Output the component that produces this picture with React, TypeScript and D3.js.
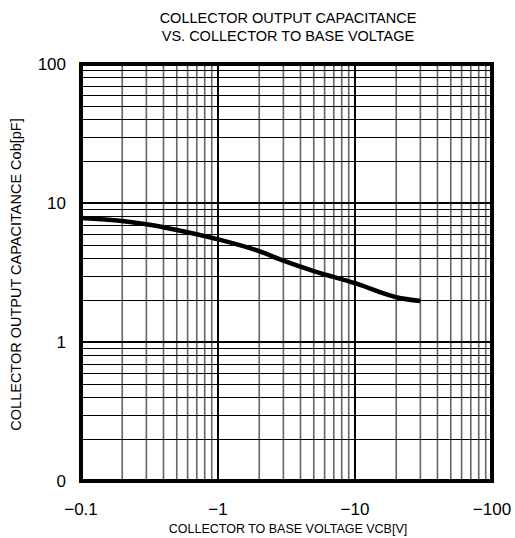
import React from 'react';
import { scaleLog, line, curveMonotoneX } from 'd3';

// collector to base voltage magnitude [V] (axis shows negative values)
const vcb = [0.1, 0.2, 0.3, 0.5, 1, 2, 3, 5, 10, 20, 30];
// collector output capacitance [pF]
const cob = [7.8, 7.43, 7.03, 6.4, 5.48, 4.5, 3.85, 3.24, 2.65, 2.1, 1.97];

const xTicks = [0.1, 1, 10, 100];
const xTickLabels = ['\u22120.1', '\u22121', '\u221210', '\u2212100'];
const yTicks = [0.1, 1, 10, 100];
const yTickLabels = ['0', '1', '10', '100'];

const W = 515;
const H = 538;
const left = 81;
const right = 492;
const top = 64;
const bottom = 481;

const minors = (decades: number[]) => {
  const out: number[] = [];
  decades.forEach((d) => {
    for (let k = 2; k <= 9; k++) out.push(d * k);
  });
  return out;
};

export default function App() {
  const x = scaleLog().domain([0.1, 100]).range([left, right]);
  const y = scaleLog().domain([0.1, 100]).range([bottom, top]);

  const minorV = minors([0.1, 1, 10]);
  const minorH = minors([0.1, 1, 10]);

  const path = line<number>()
    .x((d, i) => x(vcb[i]))
    .y((d) => y(d))
    .curve(curveMonotoneX)(cob);

  const font = '"Liberation Sans", Arial, sans-serif';

  return (
    <svg
      width={W}
      height={H}
      style={{ position: 'absolute', left: 0, top: 0, background: '#fff' }}
      fontFamily={font}
    >
      <text x={288} y={23} textAnchor='middle' fontSize={14.5}>
        COLLECTOR OUTPUT CAPACITANCE
      </text>
      <text x={288} y={41} textAnchor='middle' fontSize={14.5}>
        VS. COLLECTOR TO BASE VOLTAGE
      </text>

      {minorV.map((v) => (
        <line key={'mv' + v} x1={x(v)} x2={x(v)} y1={top} y2={bottom} stroke='#666' strokeWidth={1.6} />
      ))}
      {minorH.map((v) => (
        <line key={'mh' + v} x1={left} x2={right} y1={Math.round(y(v)) + 0.5} y2={Math.round(y(v)) + 0.5} stroke='#000' strokeWidth={1} />
      ))}
      {xTicks.slice(1, -1).map((v) => (
        <line key={'Mv' + v} x1={x(v)} x2={x(v)} y1={top} y2={bottom} stroke='#000' strokeWidth={2} />
      ))}
      {yTicks.slice(1, -1).map((v) => (
        <line key={'Mh' + v} x1={left} x2={right} y1={y(v)} y2={y(v)} stroke='#000' strokeWidth={2} />
      ))}

      <path d={path || ''} fill='none' stroke='#000' strokeWidth={4.5} strokeLinejoin='round' />

      <rect x={left} y={top} width={right - left} height={bottom - top} fill='none' stroke='#000' strokeWidth={4} />

      {yTicks.map((v, i) => (
        <text key={'yl' + v} x={66} y={y(v) + 6} textAnchor='end' fontSize={17}>
          {yTickLabels[i]}
        </text>
      ))}
      {xTicks.map((v, i) => (
        <text key={'xl' + v} x={x(v)} y={515} textAnchor='middle' fontSize={17}>
          {xTickLabels[i]}
        </text>
      ))}

      <text x={288} y={533} textAnchor='middle' fontSize={12.5}>
        COLLECTOR TO BASE VOLTAGE VCB[V]
      </text>
      <text
        transform={`translate(21, ${(top + bottom) / 2 + 2}) rotate(-90)`}
        textAnchor='middle'
        fontSize={14.5}
      >
        COLLECTOR OUTPUT CAPACITANCE Cob[pF]
      </text>
    </svg>
  );
}
